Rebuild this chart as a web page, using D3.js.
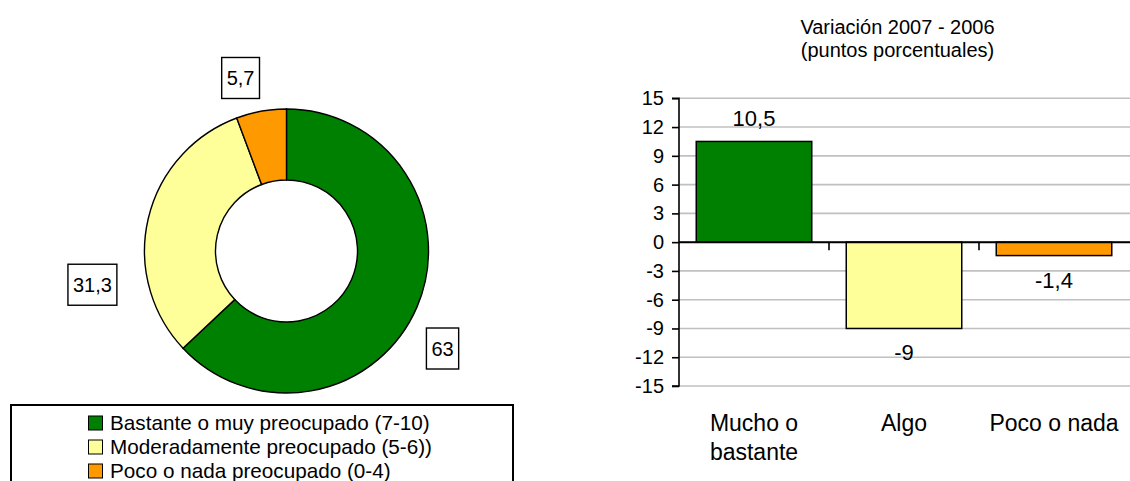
<!DOCTYPE html>
<html>
<head>
<meta charset="utf-8">
<script src="https://cdn.jsdelivr.net/npm/d3@7"></script>
<style>
  body { margin: 0; background: #fff; }
  svg text { font-family: "Liberation Sans", Arial, sans-serif; fill: #000; }
</style>
</head>
<body>
<svg id="chart" width="1130" height="481"></svg>

<script>
// ---- data ----
const pieCategories = ["Bastante o muy preocupado (7-10)", "Moderadamente preocupado (5-6))", "Poco o nada preocupado (0-4)"];
const pieValues = [63, 31.3, 5.7];
const pieColors = ["#008000", "#ffff99", "#ff9900"];

const barCategories = [["Mucho o", "bastante"], ["Algo"], ["Poco o nada"]];
const barValues = [10.5, -9, -1.4];
const yTicks = [15, 12, 9, 6, 3, 0, -3, -6, -9, -12, -15];
const barTitle = ["Variación 2007 - 2006", "(puntos porcentuales)"];

const fmt = v => String(v).replace(".", ",");

const svg = d3.select("#chart");

// ---- donut ----
const cx = 286.5, cy = 251;
const pieG = svg.append("g").attr("transform", `translate(${cx},${cy})`);

const pie = d3.pie().sort(null).value(d => d);
const arcs = pie(pieValues);
const arc = d3.arc().innerRadius(71).outerRadius(142);

pieG.selectAll("path.slice").data(arcs)
    .join("path")
    .attr("class", "slice")
    .attr("d", arc)
    .attr("fill", (d, i) => pieColors[i])
    .attr("stroke", "#000")
    .attr("stroke-width", 1.4);

// label placement (excel moves them around a bit): angle shift in degrees, radius
const labelShift = [[8.6, 184], [-23, 197], [-4.6, 179]];

const labels = pieG.selectAll("g.lbl").data(arcs)
    .join("g")
    .attr("class", "lbl")
    .attr("transform", (d, i) => {
        const a = (d.startAngle + d.endAngle) / 2 + labelShift[i][0] * Math.PI / 180;
        const r = labelShift[i][1];
        return `translate(${r * Math.sin(a)},${-r * Math.cos(a)})`;
    });

labels.append("text")
    .attr("text-anchor", "middle")
    .attr("y", 7)
    .style("font-size", "20px")
    .text(d => fmt(d.data));

labels.each(function() {
    const g = d3.select(this);
    const bb = g.select("text").node().getBBox();
    g.insert("rect", "text")
        .attr("x", bb.x - 5).attr("width", bb.width + 10)
        .attr("y", -20.5).attr("height", 41)
        .attr("fill", "#fff")
        .attr("stroke", "#000")
        .attr("stroke-width", 1.4);
});

// ---- legend ----
const legend = svg.append("g");
legend.append("rect")
    .attr("x", 11).attr("y", 405)
    .attr("width", 502).attr("height", 100)
    .attr("fill", "none")
    .attr("stroke", "#000")
    .attr("stroke-width", 2);

const items = legend.selectAll("g.item").data(pieCategories)
    .join("g")
    .attr("class", "item")
    .attr("transform", (d, i) => `translate(88,${430 + i * 24})`);

items.append("rect")
    .attr("x", 0.5).attr("y", -14)
    .attr("width", 14).attr("height", 14)
    .attr("fill", (d, i) => pieColors[i])
    .attr("stroke", "#000")
    .attr("stroke-width", 1);

items.append("text")
    .attr("x", 22)
    .style("font-size", "20.7px")
    .text(d => d);

// ---- bar chart ----
const x = d3.scaleBand()
    .domain(d3.range(barValues.length))
    .range([679, 1129])
    .paddingInner(0.23)
    .paddingOuter(0.115);

const y = d3.scaleLinear().domain([-15, 15]).range([386, 98.3]);

const barG = svg.append("g");

// gridlines
barG.selectAll("line.grid").data(yTicks)
    .join("line")
    .attr("class", "grid")
    .attr("x1", 679).attr("x2", 1130)
    .attr("y1", d => y(d)).attr("y2", d => y(d))
    .attr("stroke", "#c0c0c0")
    .attr("stroke-width", 1.6);

// y axis
const yAxis = d3.axisLeft(y).tickValues(yTicks).tickSize(7).tickPadding(8).tickFormat(d => d);
const yAx = barG.append("g").attr("transform", "translate(679,0)").call(yAxis);
yAx.select(".domain").attr("stroke", "#000").attr("stroke-width", 1.6).attr("d", `M-7,${y(15)}H0V${y(-15)}H-7`);
yAx.selectAll(".tick line").attr("stroke", "#000").attr("stroke-width", 1.6);
yAx.selectAll(".tick text")
    .style("font-size", "20px")
    .style("font-family", "'Liberation Sans', Arial, sans-serif")
    .attr("fill", "#000");

// bars
barG.selectAll("rect.bar").data(barValues)
    .join("rect")
    .attr("class", "bar")
    .attr("x", (d, i) => x(i))
    .attr("width", x.bandwidth())
    .attr("y", d => y(Math.max(0, d)))
    .attr("height", d => Math.abs(y(d) - y(0)))
    .attr("fill", (d, i) => pieColors[i])
    .attr("stroke", "#000")
    .attr("stroke-width", 1.5);

// zero line + category ticks
barG.append("line")
    .attr("x1", 679).attr("x2", 1130)
    .attr("y1", y(0)).attr("y2", y(0))
    .attr("stroke", "#000").attr("stroke-width", 2);

barG.selectAll("line.ctick").data(d3.range(1, barValues.length))
    .join("line")
    .attr("class", "ctick")
    .attr("x1", i => x(i) - x.step() * x.paddingInner() / 2)
    .attr("x2", i => x(i) - x.step() * x.paddingInner() / 2)
    .attr("y1", y(0)).attr("y2", y(0) + 8)
    .attr("stroke", "#000").attr("stroke-width", 1.6);

// value labels
barG.selectAll("text.val").data(barValues)
    .join("text")
    .attr("class", "val")
    .attr("text-anchor", "middle")
    .attr("x", (d, i) => x(i) + x.bandwidth() / 2)
    .attr("y", d => d >= 0 ? y(d) - 15 : y(d) + 32)
    .style("font-size", "22px")
    .text(d => fmt(d));

// category labels
barG.selectAll("text.cat").data(barCategories)
    .join("text")
    .attr("class", "cat")
    .attr("text-anchor", "middle")
    .style("font-size", "23px")
    .attr("transform", (d, i) => `translate(${x(i) + x.bandwidth() / 2},430.5)`)
    .selectAll("tspan").data(d => d)
    .join("tspan")
    .attr("x", 0)
    .attr("y", (d, j) => j * 29.5)
    .text(d => d);

// title
svg.append("text")
    .attr("text-anchor", "middle")
    .attr("x", 897.5)
    .style("font-size", "20px")
    .selectAll("tspan").data(barTitle)
    .join("tspan")
    .attr("x", 897.5)
    .attr("y", (d, i) => 34 + i * 23)
    .text(d => d);
</script>
</body>
</html>
